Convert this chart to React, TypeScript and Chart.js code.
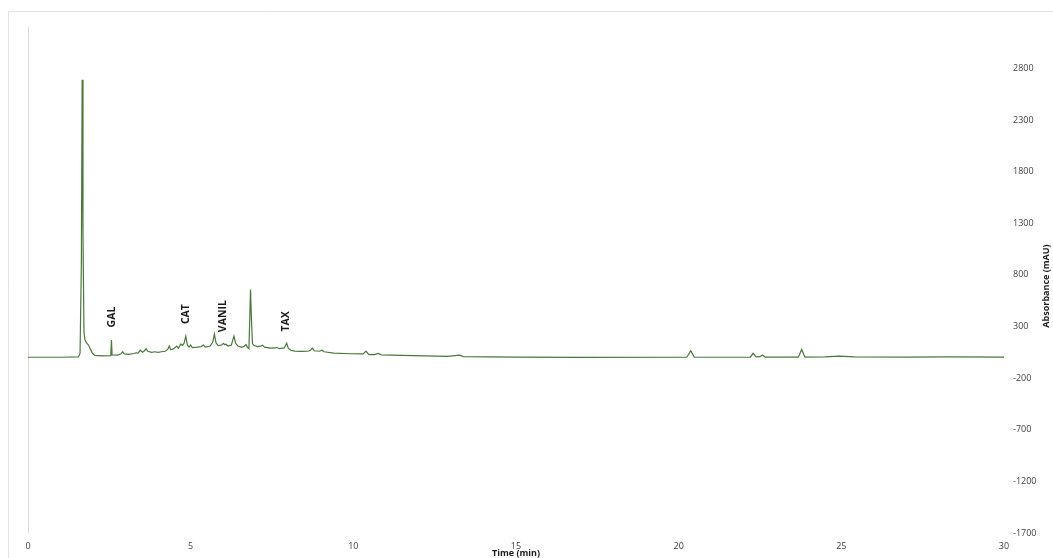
import React, { useEffect, useRef } from "react";
import { Chart, registerables } from "chart.js";

Chart.register(...registerables);

// Retention time (min)
const times = [
  0, 1.0, 1.55, 1.6, 1.64, 1.665, 1.69, 1.72, 1.75, 1.8, 1.86, 1.92, 1.98, 2.05, 2.3, 2.545,
  2.565, 2.585, 2.75, 2.86, 2.91, 2.96, 3.1, 3.25, 3.33, 3.38, 3.45, 3.52, 3.58, 3.63, 3.68, 3.8,
  3.9, 4.0, 4.1, 4.22, 4.3, 4.34, 4.39, 4.48, 4.57, 4.62, 4.7, 4.75, 4.8, 4.85, 4.9, 4.95, 5.0,
  5.05, 5.2, 5.32, 5.39, 5.45, 5.6, 5.68, 5.73, 5.78, 5.85, 5.95, 6.01, 6.04, 6.08, 6.15, 6.25,
  6.33, 6.38, 6.45, 6.55, 6.63, 6.7, 6.75, 6.79, 6.81, 6.84, 6.87, 6.9, 6.95, 7.05, 7.15, 7.21,
  7.27, 7.45, 7.6, 7.65, 7.72, 7.88, 7.95, 8.0, 8.08, 8.2, 8.4, 8.6, 8.68, 8.74, 8.8, 8.95, 9.04,
  9.1, 9.4, 9.9, 10.3, 10.39, 10.48, 10.65, 10.77, 10.85, 11.5, 12.9, 13.27, 13.38, 15, 17,
  20.25, 20.37, 20.48, 21.3, 22.2, 22.29, 22.38, 22.5, 22.57, 22.66, 23.68, 23.78, 23.88, 24.5,
  24.93, 25.4, 27, 28.3, 30,
];

// Absorbance (mAU)
const absorbance = [
  2, 2, 5, 40, 900, 2690, 1200, 250, 170, 140, 120, 80, 40, 20, 15, 18,
  168, 25, 22, 35, 55, 35, 30, 38, 45, 40, 70, 50, 65, 84, 60, 50,
  55, 50, 55, 60, 80, 110, 75, 85, 110, 90, 130, 115, 140, 207, 120, 100, 120,
  95, 100, 105, 120, 100, 110, 150, 226, 140, 115, 120, 136, 125, 128, 110, 120,
  207, 140, 110, 100, 105, 125, 95, 85, 300, 659, 350, 135, 115, 105, 110, 118,
  100, 90, 92, 98, 85, 92, 138, 90, 70, 62, 58, 60, 70, 90, 65, 60, 70,
  55, 42, 36, 35, 62, 28, 28, 40, 25, 20, 10, 22, 8, 3, 1,
  2, 65, 3, 2, 3, 40, 5, 8, 23, 4, 3, 78, 4, 6,
  13, 5, 3, 6, 3,
];

// Compound labels
const peakNames = ["GAL", "CAT", "VANIL", "TAX"];
const peakNameTimes = [2.58, 4.85, 6.0, 7.94];
const peakNameLevels = [391, 420, 400, 350];

// Axes
const xTickValues = [0, 5, 10, 15, 20, 25, 30];
const yTickValues = [-1700, -1200, -700, -200, 300, 800, 1300, 1800, 2300, 2800];
const yMin = -1700;
const yMax = 3200;

const FONT = "'Open Sans', 'DejaVu Sans', sans-serif";

const decorPlugin = {
  id: "decor",
  beforeDraw(chart: any) {
    const { ctx } = chart;
    ctx.save();
    ctx.fillStyle = "#ffffff";
    ctx.fillRect(0, 0, chart.width, chart.height);
    ctx.strokeStyle = "#e2e2e2";
    ctx.lineWidth = 1;
    ctx.beginPath();
    ctx.moveTo(8.5, chart.height + 5);
    ctx.lineTo(8.5, 11.5);
    ctx.lineTo(chart.width + 5, 11.5);
    ctx.stroke();
    ctx.restore();
  },
  afterDraw(chart: any) {
    const { ctx, chartArea } = chart;
    const xs = chart.scales.x;
    const ys = chart.scales.y;
    ctx.save();
    ctx.fillStyle = "#1a1a1a";
    ctx.font = `bold 10.5px ${FONT}`;
    ctx.textAlign = "center";
    ctx.textBaseline = "middle";
    peakNames.forEach((name, i) => {
      const px = xs.getPixelForValue(peakNameTimes[i]);
      const py = ys.getPixelForValue(peakNameLevels[i]);
      ctx.save();
      ctx.translate(px, py);
      ctx.rotate(-Math.PI / 2);
      ctx.fillText(name, 0, 0);
      ctx.restore();
    });
    // y-axis title (reads bottom to top)
    ctx.font = `bold 9px ${FONT}`;
    ctx.fillStyle = "#1a1a1a";
    ctx.save();
    ctx.translate(ys.right - 7, (chartArea.top + chartArea.bottom) / 2 + 6);
    ctx.rotate(-Math.PI / 2);
    ctx.fillText("Absorbance (mAU)", 0, 0);
    ctx.restore();
    ctx.restore();
  },
};

export default function App() {
  const canvasRef = useRef<HTMLCanvasElement | null>(null);

  useEffect(() => {
    if (!canvasRef.current) return;
    const points = times.map((t, i) => ({ x: t, y: absorbance[i] }));
    const chart = new Chart(canvasRef.current, {
      type: "line",
      data: {
        datasets: [
          {
            data: points,
            borderColor: "#4a773c",
            borderWidth: 1.2,
            pointRadius: 0,
            tension: 0,
            fill: false,
          },
        ],
      },
      options: {
        animation: false,
        responsive: false,
        maintainAspectRatio: false,
        layout: { padding: { left: 28, top: 27, right: 0, bottom: 0 } },
        plugins: {
          legend: { display: false },
          tooltip: { enabled: false },
        },
        scales: {
          x: {
            type: "linear",
            min: 0,
            max: 30,
            afterBuildTicks: (scale: any) => {
              scale.ticks = xTickValues.map((v) => ({ value: v }));
            },
            afterFit: (scale: any) => {
              scale.height = 25;
            },
            border: { display: false },
            grid: {
              drawTicks: false,
              color: (c: any) => (c.tick && c.tick.value === 0 ? "#d9d9d9" : "rgba(0,0,0,0)"),
            },
            ticks: {
              padding: 9,
              maxRotation: 0,
              color: "#404040",
              font: { family: FONT, size: 9, lineHeight: 1 },
              callback: (v: any) => String(v),
            },
            title: {
              display: true,
              text: "Time (min)",
              color: "#1a1a1a",
              padding: { top: 0, bottom: 0 },
              font: { family: FONT, size: 9, weight: "bold", lineHeight: 1 },
            },
          },
          y: {
            type: "linear",
            position: "right",
            min: yMin,
            max: yMax,
            afterBuildTicks: (scale: any) => {
              scale.ticks = yTickValues.map((v) => ({ value: v }));
            },
            afterFit: (scale: any) => {
              scale.width = 49;
            },
            border: { display: false },
            grid: { display: false, drawTicks: false },
            ticks: {
              padding: 9,
              color: "#404040",
              font: { family: FONT, size: 9 },
              callback: (v: any) => String(v),
            },
          },
        },
      },
      plugins: [decorPlugin],
    });
    return () => chart.destroy();
  }, []);

  return (
    <div style={{ position: "fixed", left: 0, top: 0, width: 1053, height: 558 }}>
      <canvas ref={canvasRef} width={1053} height={558} style={{ width: 1053, height: 558, display: "block" }} />
    </div>
  );
}
